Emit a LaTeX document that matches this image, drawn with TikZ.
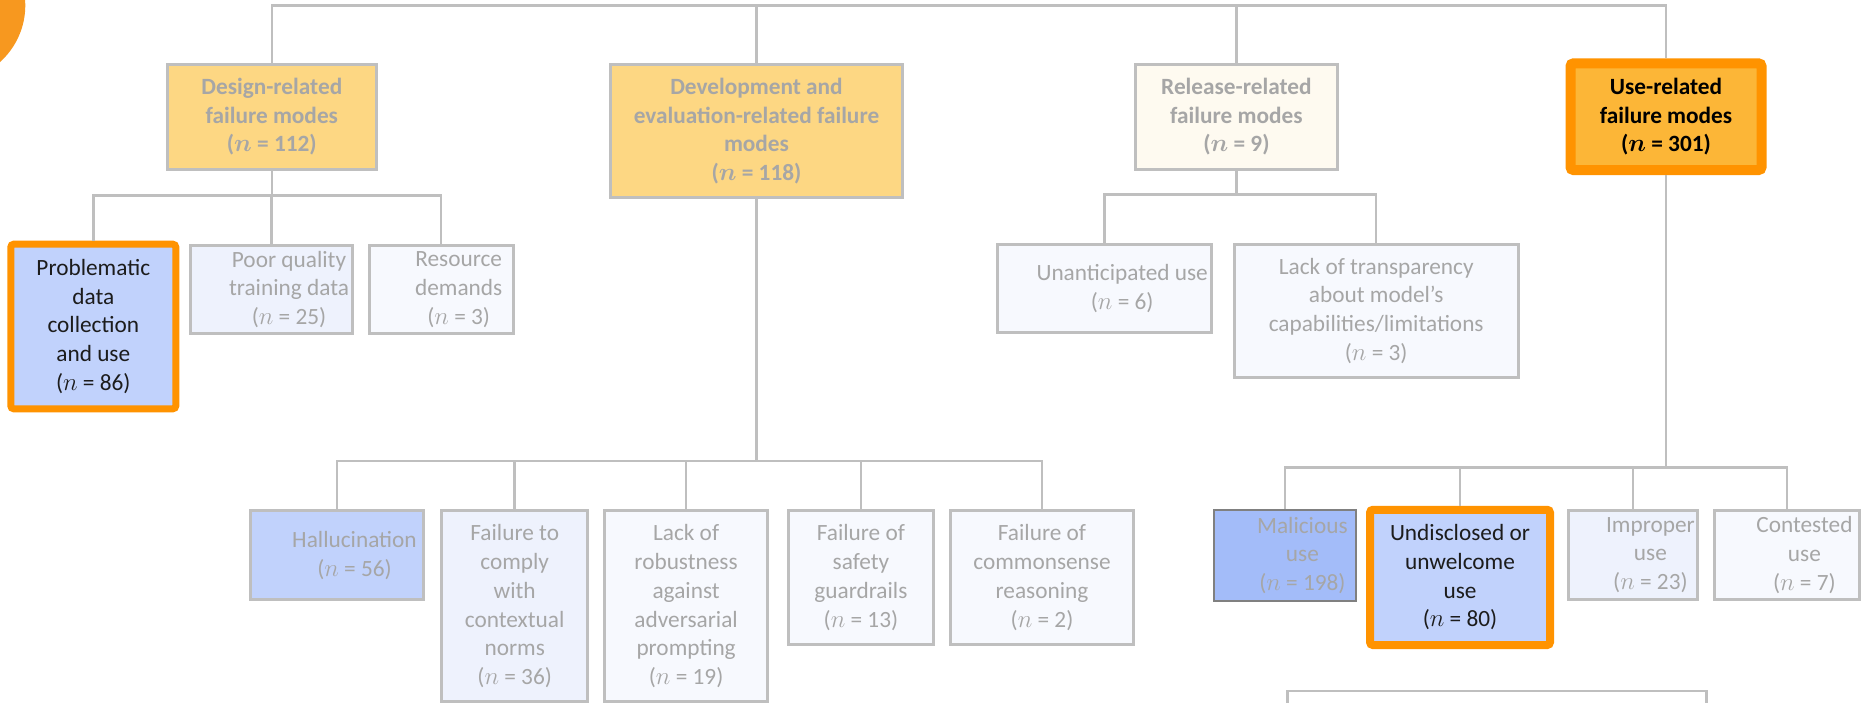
\documentclass[tikz,border=0pt]{standalone}
\usepackage{fontspec}
\setmainfont{Carlito}
\usepackage{tikz}

\definecolor{linegray}{HTML}{BFBFBF}
\definecolor{txtgray}{HTML}{A6A6A6}
\definecolor{txtblack}{HTML}{1C1C1C}
\definecolor{hiorange}{HTML}{FF9300}
\definecolor{circorange}{HTML}{F7981F}
\definecolor{stagefill}{HTML}{FDD783}
\definecolor{releasefill}{HTML}{FEFAF0}
\definecolor{usefill}{HTML}{FCB637}
\definecolor{bluefill}{HTML}{C1D2FC}
\definecolor{darkblue}{HTML}{A3BCF9}
\definecolor{paleblue}{HTML}{EEF2FD}
\definecolor{palerblue}{HTML}{F7F9FE}

\def\boxfont{\fontsize{23.3}{28.7}\selectfont}

\tikzset{
  every node/.style={font=\boxfont},
  link/.style={draw=linegray, line width=2.5pt},
  sz/.style 2 args={minimum width=#1pt, minimum height=#2pt},
  gbox/.style={draw=linegray, line width=3pt, align=center, text=txtgray, inner sep=0pt},
  stagebox/.style={gbox, fill=stagefill, font=\boxfont\bfseries\boldmath},
  hibox/.style={draw=hiorange, line width=#1, rounded corners=3pt, align=center, text=txtblack, inner sep=0pt},
  padtext/.style={label={[text=txtgray, align=center, xshift=17.5pt]center:{#1}}},
}

\begin{document}
\begin{tikzpicture}[x=1pt, y=-1pt]
    %%%%% START %%%%%
    \clip (0,0) rectangle (1862,703);
    \fill[white] (0,0) rectangle (1862,703);
    \fill[circorange] (-51,5.3) circle (76.3pt);

    % stages
    \node[stagebox, sz={208.6}{105}] (design) at (271.8,116.7) {Design-related\\failure modes\\($n$ = 112)};
    \node[stagebox, sz={292}{133.6}] (devel) at (756.5,131) {Development and\\evaluation-related failure\\modes\\($n$ = 118)};
    \node[stagebox, fill=releasefill, sz={202.8}{105}] (release) at (1236.4,116.7) {Release-related\\failure modes\\($n$ = 9)};
    \node[hibox=10pt, fill=usefill, sz={191}{106.7}, font=\boxfont\bfseries\boldmath, text=black] (use) at (1666,116.7) {Use-related\\failure modes\\($n$ = 301)};
    \coordinate (root) at (968,5.7);

    % design-related
    \node[hibox=7pt, fill=bluefill, sz={165}{164.6}] (probl) at (93.3,326.5) {Problematic\\data\\collection\\and use\\($n$ = 86)};
    \node[gbox, fill=paleblue, sz={162.3}{88}, padtext={Poor quality\\training data\\($n$ = 25)}] (poorq) at (271.5,289.5) {};
    \node[gbox, fill=palerblue, sz={144.1}{88}, padtext={Resource\\demands\\($n$ = 3)}] (resrc) at (441.2,289.5) {};

    % release-related
    \node[gbox, fill=palerblue, sz={214.3}{88.3}, padtext={Unanticipated use\\($n$ = 6)}] (unant) at (1104.7,288.3) {};
    \node[gbox, fill=palerblue, sz={283.6}{133.3}] (transp) at (1376.2,310.8) {Lack of transparency\\about model’s\\capabilities/limitations\\($n$ = 3)};

    % development and evaluation
    \node[gbox, fill=bluefill, sz={172.5}{88.7}, padtext={Hallucination\\($n$ = 56)}] (halluc) at (337,555.2) {};
    \node[gbox, fill=paleblue, sz={146.3}{190.7}] (comply) at (514.7,606.2) {Failure to\\comply\\with\\contextual\\norms\\($n$ = 36)};
    \node[gbox, fill=palerblue, sz={163.2}{190.7}] (robust) at (686.1,606.2) {Lack of\\robustness\\against\\adversarial\\prompting\\($n$ = 19)};
    \node[gbox, fill=palerblue, sz={145.1}{133.4}] (safety) at (860.9,577.5) {Failure of\\safety\\guardrails\\($n$ = 13)};
    \node[gbox, fill=palerblue, sz={182.4}{133.4}] (common) at (1042,577.5) {Failure of\\commonsense\\reasoning\\($n$ = 2)};

    % use-related
    \node[gbox, draw=gray, line width=2pt, fill=darkblue, sz={142.3}{90.4}, padtext={Malicious\\use\\($n$ = 198)}] (malic) at (1284.9,555.5) {};
    \node[hibox=8pt, fill=bluefill, sz={180}{135.3}] (undisc) at (1460,577.4) {Undisclosed or\\unwelcome\\use\\($n$ = 80)};
    \node[gbox, fill=paleblue, sz={129.3}{88.4}, padtext={Improper\\use\\($n$ = 23)}] (improp) at (1632.9,555) {};
    \node[gbox, fill=palerblue, sz={145.3}{88.4}, padtext={Contested\\use\\($n$ = 7)}] (contest) at (1786.9,555) {};
    \node[gbox, fill=white, line width=2.5pt, sz={419}{58.4}] (nextbox) at (1497,720) {};

    % connectors
    \draw[link] (design.north) |- (root);
    \draw[link] (devel.north) |- (root);
    \draw[link] (release.north) |- (root);
    \draw[link] (use.north) |- (root);

    \draw[link] (design.south) -- ++(0,25) -| (probl.north);
    \draw[link] (design.south) -- ++(0,25) -| (poorq.north);
    \draw[link] (design.south) -- ++(0,25) -| (resrc.north);

    \draw[link] (devel.south) -- ++(0,261.5) -| (halluc.north);
    \draw[link] (devel.south) -- ++(0,261.5) -| (comply.north);
    \draw[link] (devel.south) -- ++(0,261.5) -| (robust.north);
    \draw[link] (devel.south) -- ++(0,261.5) -| (safety.north);
    \draw[link] (devel.south) -- ++(0,261.5) -| (common.north);

    \draw[link] (release.south) -- ++(0,24) -| (unant.north);
    \draw[link] (release.south) -- ++(0,24) -| (transp.north);

    \draw[link] (use.south) -- ++(0,292.6) -| (malic.north);
    \draw[link] (use.south) -- ++(0,292.6) -| (undisc.north);
    \draw[link] (use.south) -- ++(0,292.6) -| (improp.north);
    \draw[link] (use.south) -- ++(0,292.6) -| (contest.north);
    %%%%% END %%%%%
\end{tikzpicture}
\end{document}
